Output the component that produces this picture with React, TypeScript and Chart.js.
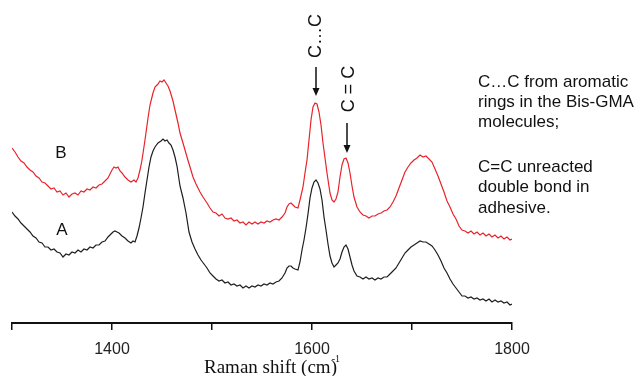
import React, { useEffect, useRef } from "react";
import { Chart, registerables } from "chart.js";

Chart.register(...registerables);

// Raman shift (cm-1) sample positions and intensities (a.u.)
const wavenumbersB = [
  1300, 1303, 1306, 1309, 1312, 1315, 1318, 1321, 1324, 1327, 1330, 1333, 1336, 1339, 1342, 1345, 1348, 1351, 1354, 1357,
  1360, 1363, 1366, 1369, 1372, 1375, 1378, 1381, 1384, 1387, 1390, 1393, 1396, 1398, 1400, 1402, 1404, 1406, 1408, 1410,
  1413, 1416, 1419, 1422, 1424, 1426, 1428, 1430, 1433, 1436, 1438, 1441, 1443, 1446, 1448, 1450, 1452, 1454, 1456, 1458,
  1461, 1463, 1466, 1468, 1471, 1475, 1478, 1481, 1484, 1488, 1491, 1495, 1498, 1501, 1504, 1507, 1510, 1513, 1516, 1519,
  1522, 1525, 1528, 1531, 1534, 1537, 1540, 1543, 1546, 1549, 1552, 1555, 1558, 1561, 1564, 1567, 1570, 1573, 1575, 1577,
  1579, 1581, 1583, 1586, 1588, 1591, 1593, 1595, 1597, 1599, 1601, 1603, 1605, 1607, 1609, 1611, 1613, 1615, 1618, 1620,
  1622, 1624, 1626, 1628, 1630, 1632, 1634, 1636, 1638, 1640, 1642, 1645, 1648, 1651, 1654, 1657, 1660, 1663, 1666, 1669,
  1672, 1675, 1678, 1681, 1684, 1687, 1690, 1693, 1696, 1699, 1702, 1705, 1708, 1711, 1714, 1717, 1720, 1723, 1726, 1729,
  1732, 1735, 1738, 1741, 1744, 1747, 1750, 1753, 1756, 1759, 1762, 1765, 1768, 1771, 1774, 1777, 1780, 1783, 1786, 1789,
  1792, 1795, 1798, 1800,
];
const intensityB = [
  175, 171, 166, 162, 160, 156, 153, 151, 147, 145, 141, 140, 137, 134, 135, 131, 132, 128, 130, 126,
  129, 130, 128, 132, 131, 134, 133, 136, 135, 138, 139, 142, 145, 149, 153, 156, 155, 156, 152, 150,
  146, 143, 141, 143, 141, 145, 153, 163, 183, 205, 218, 230, 236, 239, 242, 241, 243, 240, 237, 232,
  222, 213, 200, 190, 180, 166, 156, 146, 139, 131, 126, 120, 115, 111, 110, 107, 109, 105, 104, 105,
  102, 103, 100, 101, 98, 101, 99, 101, 99, 101, 100, 102, 101, 103, 104, 103, 106, 110, 116, 119,
  120, 118, 116, 115, 123, 136, 150, 163, 183, 203, 216, 220, 219, 211, 198, 180, 165, 150, 130, 123,
  121, 124, 131, 146, 158, 164, 165, 160, 150, 137, 126, 116, 111, 108, 107, 105, 107, 107, 109, 110,
  112, 113, 116, 121, 127, 135, 143, 151, 156, 160, 163, 165, 168, 166, 167, 164, 161, 154, 147, 139,
  131, 122, 116, 109, 104, 97, 93, 92, 90, 92, 89, 91, 88, 90, 87, 89, 86, 88, 85, 87,
  84, 86, 83, 84,
];

const wavenumbersA = [
  1300, 1303, 1306, 1309, 1312, 1315, 1318, 1321, 1324, 1327, 1330, 1333, 1336, 1339, 1342, 1345, 1348, 1351, 1354, 1357,
  1360, 1363, 1366, 1369, 1372, 1375, 1378, 1381, 1384, 1387, 1390, 1393, 1396, 1399, 1401, 1403, 1405, 1407, 1410, 1413,
  1416, 1419, 1421, 1423, 1425, 1427, 1429, 1431, 1433, 1435, 1437, 1439, 1441, 1443, 1446, 1449, 1451, 1453, 1455, 1457,
  1459, 1461, 1463, 1465, 1468, 1471, 1474, 1477, 1480, 1483, 1486, 1489, 1492, 1495, 1498, 1501, 1504, 1507, 1510, 1513,
  1516, 1519, 1522, 1525, 1528, 1531, 1534, 1537, 1540, 1543, 1546, 1549, 1552, 1555, 1558, 1561, 1564, 1567, 1570, 1573,
  1575, 1577, 1579, 1581, 1583, 1586, 1588, 1590, 1592, 1594, 1596, 1598, 1600, 1602, 1604, 1606, 1608, 1610, 1612, 1614,
  1616, 1618, 1620, 1622, 1624, 1626, 1628, 1630, 1632, 1634, 1636, 1638, 1640, 1642, 1645, 1648, 1651, 1654, 1657, 1660,
  1663, 1666, 1669, 1672, 1675, 1678, 1681, 1684, 1687, 1690, 1693, 1696, 1699, 1702, 1705, 1708, 1711, 1714, 1717, 1720,
  1723, 1726, 1729, 1732, 1735, 1738, 1741, 1744, 1747, 1750, 1753, 1756, 1759, 1762, 1765, 1768, 1771, 1774, 1777, 1780,
  1783, 1786, 1789, 1792, 1795, 1798, 1800,
];
const intensityA = [
  111, 107, 104, 100, 97, 94, 91, 87, 85, 81, 80, 76, 76, 73, 74, 71, 70, 66, 69, 68,
  71, 70, 73, 71, 74, 73, 76, 75, 78, 78, 81, 82, 86, 89, 91, 92, 91, 90, 87, 85,
  82, 80, 82, 81, 87, 95, 105, 116, 130, 143, 156, 166, 172, 176, 180, 182, 184, 182, 183, 180,
  178, 173, 166, 157, 137, 125, 110, 91, 81, 74, 68, 63, 59, 55, 50, 47, 44, 42, 43, 40,
  41, 38, 39, 37, 38, 35, 37, 35, 37, 36, 38, 37, 39, 38, 40, 39, 41, 42, 45, 50,
  55, 57, 57, 55, 54, 53, 61, 73, 83, 95, 109, 125, 135, 141, 143, 140, 134, 123, 106, 93,
  79, 67, 60, 56, 58, 60, 64, 71, 76, 78, 74, 66, 58, 52, 47, 46, 44, 46, 44, 45,
  43, 45, 44, 46, 46, 49, 52, 55, 60, 65, 70, 73, 76, 78, 80, 82, 81, 81, 79, 77,
  73, 68, 62, 55, 50, 44, 39, 35, 31, 27, 27, 25, 26, 24, 25, 23, 24, 22, 24, 21,
  23, 21, 22, 20, 21, 18, 19,
];

const seriesNames = ["B", "A"];
const tickLabels = [1400, 1600, 1800];
const xMin = 1300;
const xMax = 1800;
const yMax = 323;

const noteLines = [
  "C\u2026C from aromatic",
  "rings in the Bis-GMA",
  "molecules;",
  "",
  "C=C unreacted",
  "double bond in",
  "adhesive.",
];

const SANS = "'Liberation Sans', Arial, Helvetica, sans-serif";
const SERIF = "'Liberation Serif', 'Times New Roman', serif";

function drawArrow(ctx: CanvasRenderingContext2D, x: number, y1: number, y2: number) {
  ctx.save();
  ctx.strokeStyle = "#111";
  ctx.fillStyle = "#111";
  ctx.lineWidth = 1.5;
  ctx.beginPath();
  ctx.moveTo(x, y1);
  ctx.lineTo(x, y2 - 6);
  ctx.stroke();
  ctx.beginPath();
  ctx.moveTo(x - 3.5, y2 - 8);
  ctx.lineTo(x + 3.5, y2 - 8);
  ctx.lineTo(x, y2);
  ctx.closePath();
  ctx.fill();
  ctx.restore();
}

function drawRotated(ctx: CanvasRenderingContext2D, text: string, x: number, y: number) {
  ctx.save();
  ctx.translate(x, y);
  ctx.rotate(-Math.PI / 2);
  ctx.font = `18px ${SANS}`;
  ctx.fillStyle = "#111";
  ctx.textAlign = "center";
  ctx.textBaseline = "middle";
  ctx.fillText(text, 0, 0);
  ctx.restore();
}

const annotationPlugin = {
  id: "ramanAnnotations",
  afterDraw(chart: any) {
    const ctx: CanvasRenderingContext2D = chart.ctx;
    const xs = chart.scales.x;
    const ys = chart.scales.y;
    ctx.save();

    // series labels
    ctx.font = `17px ${SANS}`;
    ctx.fillStyle = "#111";
    ctx.textAlign = "center";
    ctx.textBaseline = "middle";
    ctx.fillText(seriesNames[0], xs.getPixelForValue(1349), ys.getPixelForValue(170));
    ctx.fillText(seriesNames[1], xs.getPixelForValue(1350), ys.getPixelForValue(93));

    // peak markers
    const xCC = xs.getPixelForValue(1604);
    drawRotated(ctx, "C\u2026C", xCC, 36);
    drawArrow(ctx, xCC, 67, 96);

    const xDB = xs.getPixelForValue(1635);
    drawRotated(ctx, "C = C", xDB + 2, 89);
    drawArrow(ctx, xDB, 123, 153);

    // note block
    ctx.font = `17px ${SANS}`;
    ctx.textAlign = "left";
    ctx.textBaseline = "alphabetic";
    const baselines = [87, 107, 127, 0, 172, 192, 213];
    noteLines.forEach((t, i) => {
      if (t) ctx.fillText(t, 478, baselines[i]);
    });

    // axis title
    ctx.font = `19px ${SERIF}`;
    ctx.textAlign = "left";
    const main = "Raman shift (cm";
    const w = ctx.measureText(main).width;
    const startX = 204;
    const base = 373;
    ctx.fillText(main, startX, base);
    ctx.fillText(")", startX + w, base);
    ctx.font = `10px ${SERIF}`;
    ctx.fillText("-1", startX + w + 1, base - 11);
    ctx.restore();
  },
};

export default function App() {
  const canvasRef = useRef<HTMLCanvasElement | null>(null);

  useEffect(() => {
    if (!canvasRef.current) return;
    const chart = new Chart(canvasRef.current, {
      type: "line",
      data: {
        datasets: [
          {
            label: seriesNames[0],
            data: wavenumbersB.map((x, i) => ({ x, y: intensityB[i] })),
            borderColor: "#e8232b",
            borderWidth: 1.2,
            pointRadius: 0,
            tension: 0,
            fill: false,
          },
          {
            label: seriesNames[1],
            data: wavenumbersA.map((x, i) => ({ x, y: intensityA[i] })),
            borderColor: "#1e1e1e",
            borderWidth: 1.2,
            pointRadius: 0,
            tension: 0,
            fill: false,
          },
        ],
      },
      options: {
        responsive: false,
        animation: false,
        events: [],
        layout: { padding: { left: 12, right: 130, top: 0, bottom: 0 } },
        plugins: {
          legend: { display: false },
          tooltip: { enabled: false },
          title: { display: false },
        },
        scales: {
          x: {
            type: "linear",
            min: xMin,
            max: xMax,
            afterFit: (scale: any) => {
              scale.height = 53;
            },
            border: { display: true, color: "#111", width: 2 },
            grid: {
              display: true,
              drawOnChartArea: false,
              drawTicks: true,
              tickLength: 7,
              color: "#111",
              lineWidth: 1.5,
            },
            ticks: {
              stepSize: 100,
              autoSkip: false,
              maxRotation: 0,
              padding: 10,
              color: "#222",
              font: { size: 16, family: SANS },
              callback: (v: any) => (tickLabels.includes(Number(v)) ? String(v) : ""),
            },
          },
          y: {
            display: false,
            min: 0,
            max: yMax,
          },
        },
      },
      plugins: [annotationPlugin],
    });
    return () => chart.destroy();
  }, []);

  return (
    <div style={{ position: "absolute", left: 0, top: 0, width: 642, height: 376, background: "#fff" }}>
      <canvas ref={canvasRef} width={642} height={376} style={{ display: "block" }} />
    </div>
  );
}
